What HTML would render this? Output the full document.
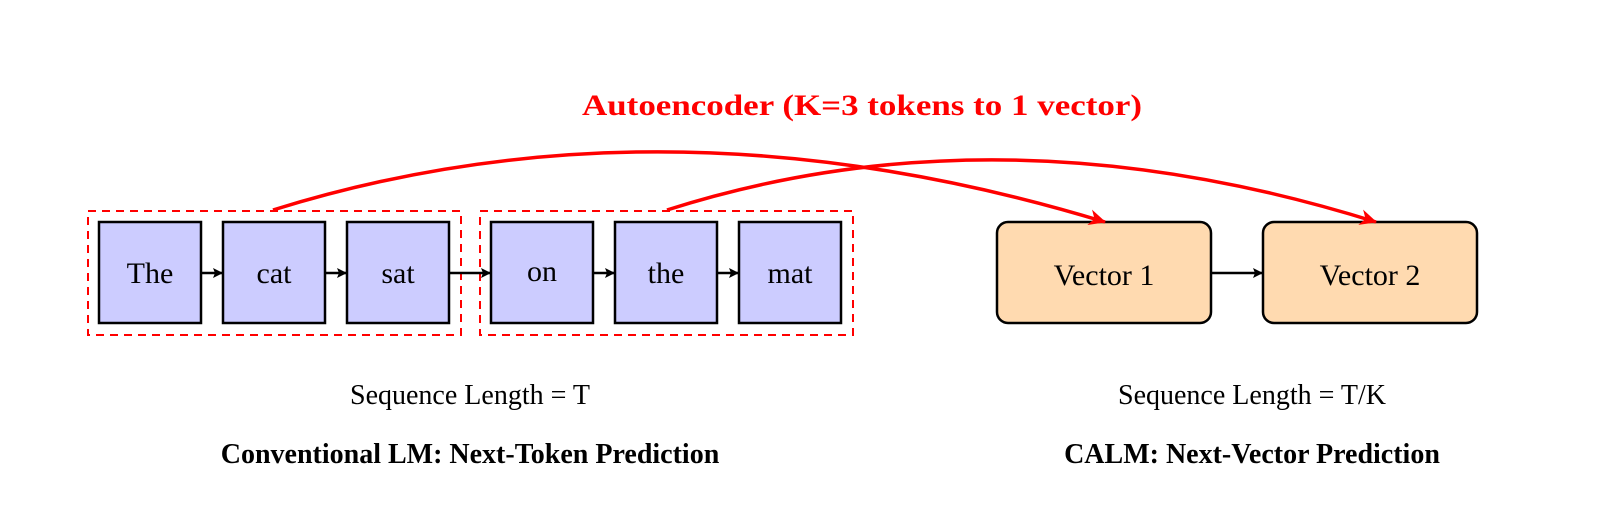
<!DOCTYPE html>
<html><head><meta charset="utf-8"><style>
html,body{margin:0;padding:0;background:#fff;}
svg{display:block;}
text{font-family:"Liberation Serif",serif;}
</style></head><body>
<svg width="1616" height="528" viewBox="0 0 1616 528" xmlns="http://www.w3.org/2000/svg">
<defs>
<marker id="ab" markerWidth="10" markerHeight="10" refX="9" refY="5" orient="auto" markerUnits="userSpaceOnUse"><path d="M0,0 L10,5 L0,10 L2,5 z" fill="#000"/></marker>
<marker id="ar" markerWidth="18" markerHeight="16" refX="16" refY="8" orient="auto" markerUnits="userSpaceOnUse"><path d="M0,0 L17,8 L0,16 L5,8 z" fill="#f00"/></marker>
</defs>
<text x="862" y="115" text-anchor="middle" font-size="30" font-weight="bold" fill="#f00" textLength="560" lengthAdjust="spacingAndGlyphs">Autoencoder (K=3 tokens to 1 vector)</text>
<!-- dashed groups -->
<rect x="88" y="211" width="373" height="124" fill="none" stroke="#f00" stroke-width="2" stroke-dasharray="8,6"/>
<rect x="480" y="211" width="373" height="124" fill="none" stroke="#f00" stroke-width="2" stroke-dasharray="8,6"/>
<!-- token boxes -->
<g stroke="#000" stroke-width="2.5" fill="#ccccff">
<rect x="99" y="222" width="102" height="101"/>
<rect x="223" y="222" width="102" height="101"/>
<rect x="347" y="222" width="102" height="101"/>
<rect x="491" y="222" width="102" height="101"/>
<rect x="615" y="222" width="102" height="101"/>
<rect x="739" y="222" width="102" height="101"/>
</g>
<g font-size="30" text-anchor="middle" fill="#000">
<text x="150" y="283">The</text>
<text x="274" y="283">cat</text>
<text x="398" y="283">sat</text>
<text x="542" y="281">on</text>
<text x="666" y="283">the</text>
<text x="790" y="283">mat</text>
</g>
<g stroke="#000" stroke-width="2.5" fill="none">
<line x1="201" y1="273" x2="222" y2="273" marker-end="url(#ab)"/>
<line x1="325" y1="273" x2="346" y2="273" marker-end="url(#ab)"/>
<line x1="449" y1="273" x2="490" y2="273" marker-end="url(#ab)"/>
<line x1="593" y1="273" x2="614" y2="273" marker-end="url(#ab)"/>
<line x1="717" y1="273" x2="738" y2="273" marker-end="url(#ab)"/>
<line x1="1211" y1="273" x2="1262" y2="273" marker-end="url(#ab)"/>
</g>
<!-- vectors -->
<g stroke="#000" stroke-width="2.5" fill="#ffdab0">
<rect x="997" y="222" width="214" height="101" rx="11"/>
<rect x="1263" y="222" width="214" height="101" rx="11"/>
</g>
<text x="1104" y="285" font-size="30" text-anchor="middle">Vector 1</text>
<text x="1370" y="285" font-size="30" text-anchor="middle">Vector 2</text>
<!-- red curves -->
<path d="M273,210 Q665,88 1105,222" fill="none" stroke="#f00" stroke-width="3.5" marker-end="url(#ar)"/>
<path d="M667,210 Q1000,104 1376,222" fill="none" stroke="#f00" stroke-width="3.5" marker-end="url(#ar)"/>
<!-- captions -->
<g font-size="28" text-anchor="middle" fill="#000">
<text x="470" y="404">Sequence Length = T</text>
<text x="1252" y="404">Sequence Length = T/K</text>
<text x="470" y="463" font-weight="bold">Conventional LM: Next-Token Prediction</text>
<text x="1252" y="463" font-weight="bold">CALM: Next-Vector Prediction</text>
</g>
</svg>
</body></html>
